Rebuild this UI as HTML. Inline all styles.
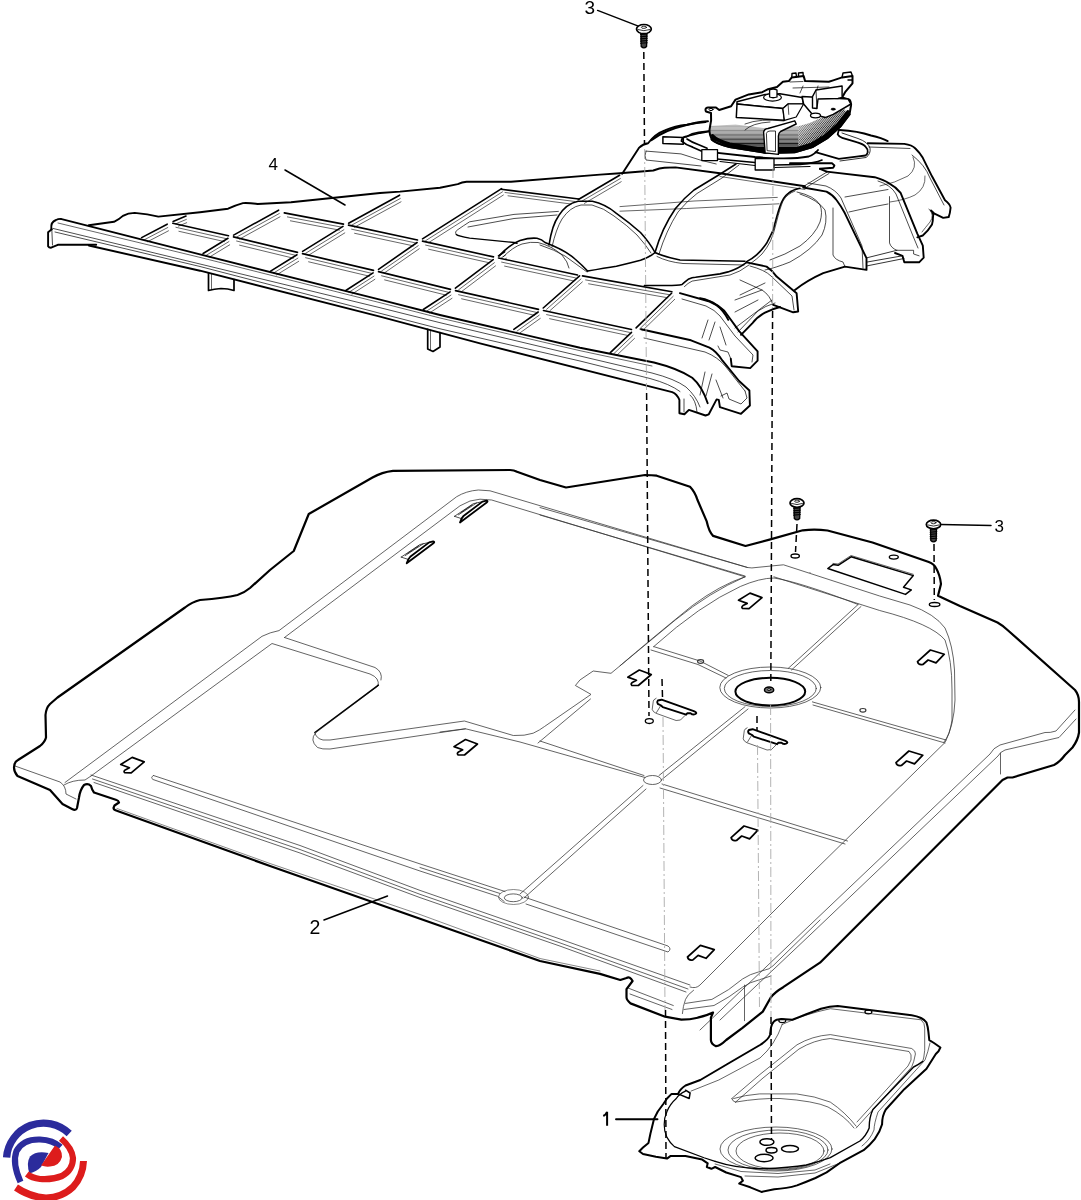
<!DOCTYPE html>
<html><head><meta charset="utf-8"><style>
html,body{margin:0;padding:0;background:#fff;}
body{width:1081px;height:1200px;overflow:hidden;position:relative;font-family:"Liberation Sans",sans-serif;}
svg{position:absolute;left:0;top:0;}
</style></head><body>
<svg width="1081" height="1200" viewBox="0 0 1081 1200" fill="none" stroke="#000" stroke-linejoin="round" stroke-linecap="round">
<g stroke="#383838" stroke-width="0.78">
<!-- G1 outer line L1 -->
<path d="M65,782.5 L262,636.3 Q270,632.3 279,630.6 L456.7,496.7 Q466,491 478.3,490 L490,490.8 L747.5,567.5 Q752,568.4 756,567.5 L783.5,564.8 L879.7,596 L910,605 Q935,614 945,628 Q953,645 954.5,670 L955,700 Q954,725 945,742.5 L810,875 L700,985 Q696,989 690,987"/>
<!-- L2a lower-left segment -->
<path d="M91,776 L272,643.5 L370,674 Q380,678 378,686 L316,732.5 Q309,740 317.5,747.5 Q322,749.5 330,749 L465.5,728.8 L520,742 L645,777.5"/>
<!-- L2b upper -->
<path d="M284.5,637.5 L460,505.8 Q470,499.5 480,499.2 L491.7,500 L745,576.8"/>
<path d="M284.5,637.5 L375,667.5 Q383,672 381,680"/>
<path stroke="#000" stroke-width="1.4" d="M378.4,685.1 L314.8,732.5"/>
<path d="M314.8,732.5 Q316,738.5 323,740 L330,740 L464.4,721 L513.3,735.5 Q525,736 533.2,733.2 Q540,730 544.4,726.6 L591,694.4 L575.4,685.5 L579.9,680 L593.2,671 L611,673.3 L675.3,620 Q710,592 745,576.8"/>
<path d="M440,732 L465.5,728.8"/>
<path d="M538,743 L590.5,699"/>
<!-- inner arc around disc region -->
<path d="M653.7,646.6 Q700,605 740.3,586.5 Q760,578 774,578 Q800,582 858.1,604.5"/>
<path d="M620,665.8 Q650,640 692.2,605.7 Q720,585 745,576.8"/>
<path d="M773.9,576.8 L879.7,610.5 Q932,624 945,640 Q952,660 952,690 L952,720 Q950,735 944,742"/>
<!-- front groove -->
<path d="M91,775 L300,845.5 L420,890.4 L560,939 L690,985"/>
<path d="M92.5,779 L300,849.5 L420,894.3 L560,942.9 L688,989"/>
<path d="M94,782.5 L300,853 L420,897.6 L560,946.1 L686,992"/>
<path stroke-width="0.6" d="M117,808.5 L270,863.5 L420,914.5 L540,958.5 L600,971"/>
<!-- long slot groove front -->
<path d="M153.5,775.5 L420,863.9 L505,891.5"/>
<path d="M153.5,775.5 Q150,777.5 153,779.5 L420,871 L497.7,896.3 Q501,899 504.2,901.5"/>
<path d="M420,867.5 L500,893.5"/>
<path d="M524,897 L668,946 Q672,949 668,952 L526,904"/>
<!-- node A -->
<ellipse cx="513.3" cy="897.8" rx="9" ry="3.9"/>
<ellipse cx="513.5" cy="897" rx="15" ry="7.5" stroke-width="0.6"/>
<!-- node B -->
<ellipse cx="652.5" cy="780" rx="9" ry="4.5"/>
<!-- groove A-B -->
<path d="M520,894 L643,785.5"/>
<path d="M524,898 L646,789"/>
<!-- groove B up-left -->
<path d="M540,741 L644,775.5"/>
<!-- groove B up-right to disc -->
<path d="M659,775.5 L745,706.7"/>
<path d="M662.5,779 L748,709"/>
<!-- groove B down-right -->
<path d="M662,784 L847.5,841"/>
<path d="M660,788 L845,844"/>
<!-- disc grooves -->
<path d="M653.7,646.6 L700,661 L728.2,675.4"/>
<path d="M651,650 L698,664.5 L726,678"/>
<ellipse cx="700.6" cy="661.5" rx="3" ry="1.8" stroke-width="1.2"/>
<path d="M788.4,668.2 L858.1,604.5"/>
<path d="M791.5,670 L861,606.5"/>
<path d="M812.4,701.9 L946,740"/>
<path d="M813,705 L945,743"/>
<ellipse cx="862.9" cy="710.3" rx="3" ry="1.8" stroke-width="1.2"/>
<!-- disc rings -->
<ellipse cx="770.3" cy="687.5" rx="50.5" ry="20.5"/>
<ellipse cx="770.3" cy="688.5" rx="46" ry="18"/>
<ellipse cx="770.3" cy="691.6" rx="34.9" ry="13.8" stroke="#000" stroke-width="2"/>
<ellipse cx="769.1" cy="689.9" rx="4.6" ry="2.9" stroke="#000" stroke-width="1.5" fill="#777"/>
<ellipse cx="769.1" cy="689.6" rx="1.8" ry="1" stroke="#000" stroke-width="0.8" fill="#bbb"/>
<!-- right inner lines near right edge -->
<path d="M1075,710 L1056,731 Q1050,733 1045,732.5 L1000,745 Q993,748 990,754 L810,925 L700,1030"/>
<path d="M1076,719 L1059,737.5 L1005,750 Q1000,752 998,756 L810,935 L720,1020"/>
<path d="M1000.5,753 L1000.5,774"/>
<!-- left flange lines -->
<path d="M15,766 L60,782 Q66,786 66,794 L76,799"/>
<path d="M64,785 Q72,780 85,780 L91,776"/>
<!-- front slot left -->
<!-- top-right platform edge -->
<path d="M810,572.5 L810,572.5"/>
<path d="M540,507.5 L747.5,567.5"/>
<path d="M540,515 L745,576"/>
<!-- lower front lines of panel bottom area -->
<path d="M693.6,990.2 Q687,995 685.5,999.4 Q683,1006 682.4,1013.6"/>
<path d="M685.5,1003.4 L711.9,999.4 Q730,990 742.5,979 Q750,974 758.7,971.9 L768.9,968.8 L773,965.8 L820,920"/>
<path d="M684,1009.5 L714,1005.5 Q730,997 742.5,987.2 Q750,982 758.7,980 L770.9,976"/>
<path d="M744.5,985.1 L744.5,1020.7"/>
<path d="M628.5,988.2 L673.3,1005.5 M630,994 L672,1009.5"/>
</g>
<path stroke-width="2.2" d="M14,767.5 Q14,762 18,760 L40,746 Q45,742 46,737.5 L45.5,715 Q46,708 50,704 L57.5,697.5 L185,607.5 Q192,602 200,600 Q225,598 237.5,595 Q244,593 250,588 L270,570 L293.75,551 L308.75,514 L372.5,477.5 Q382,472 393,470.8 L510,470 Q514,470 517,471.7 L540,480 L566,487.5 L645,475 Q652,475 656.7,475.7 L690,486.8 Q695,492 697.4,499.8 L706.6,521.1 Q709,532 713.1,535.9 L745.5,546 L769.5,539.6 L802.8,530.3 Q815,529 827.5,530.5 L872.5,542.5 L928.8,562 Q934,564 936,568 Q940,575 941,584 L938,595.7 L959.9,606.1 L997.5,622.5 Q1002,625 1007.5,630 L1075,690 Q1079,695 1079,702 L1079,732.5 Q1078,740 1072.5,747.5 L1065,755 Q1060,762 1054,765 L1012.5,777.5 L1007.5,777.5 L1002.5,780 L820,962.7 L783.2,987.2 Q775,992 770.9,997.3 L762.8,1011.6 L742.5,1027.9 L726.2,1040 Q720,1046 716,1046.2 Q711,1044 710.9,1040 L710.9,1017.7 L713,1012.6 Q706,1016 697.7,1017.7 Q690,1019.5 681.4,1019.7 L665.1,1016.7 L630.5,1003.4 Q626.5,1000 626.5,997.3 L626.5,989.2 L632.6,981 Q630,976 626.5,978 L620.3,980 L600,973.9 L540,961 L270,866 L117.5,811 Q113.5,810 113.5,808 L114.5,805.5 L119,802.5 Q118.5,800.5 116.5,800 L94,792.5 Q92,790 91,786 Q88,783 84,785 Q80,790 79,797.5 L77,808 Q76,811 72,809 L62.5,804 L50,790 L17.5,776 Q14,772 14,767.5 Z"/>
<defs>
<path id="tabA" d="M0,0 L13.9,4.2 L5.6,12.9 L-2.3,10 L-7.5,14.5 Q-12,15.5 -12.9,11.6 Z"/>
<path id="tabB" d="M0,0 L12,4.5 L-1,15.5 L-7.5,15.3 Q-9,14 -7,12.5 L-2.8,10.3 L-11.5,7.1 Z"/>
</defs>
<g stroke="#000" stroke-width="1.7">
<use href="#tabB" x="132.2" y="757.4"/>
<use href="#tabB" x="465.5" y="739.5"/>
<use href="#tabB" x="639.3" y="670"/>
<use href="#tabB" x="750" y="593.1"/>
<use href="#tabA" x="930.4" y="650"/>
<use href="#tabA" x="908.9" y="751"/>
<use href="#tabA" x="744" y="826"/>
<use href="#tabA" x="700.4" y="945.4"/>
</g>
<!-- clips -->
<defs>
<g id="clipk">
<path stroke-width="1.8" d="M460,522.5 L486.7,502.5 Q488.5,501 486.5,500.6 L482.5,501.6 L463.5,516 Q461,518.5 460,522.5 Z"/>
<path stroke-width="0.7" d="M454.5,516.3 L473.3,503.7 L482.5,501.6 M454.5,516.3 L461.7,518.7 M458.5,514.8 L476.5,503 M461,512.5 L472,505"/>
</g>
</defs>
<g stroke="#000">
<use href="#clipk"/>
<use href="#clipk" transform="translate(-53.3,40.8)"/>
</g>
<!-- slots near disc -->
<defs>
<g id="slotk">
<path stroke-width="1.9" d="M657.8,700.5 L661.6,699.7 L693.8,711.1 Q697,712.5 696.1,713.5 Q695,714.8 692.2,714.4 L690.5,713.3 L687.2,713.3 L686.1,714.7 L662.8,707.2 L661.1,705.5 L657.8,703.9 Q656.5,702 657.8,700.5 Z"/>
<path stroke-width="0.6" d="M656.1,698.3 Q653,700 653.3,701.1 L652.2,709.4 Q653,712 656.1,713.3 L676.1,720.5 L680.5,720 L685,715.5 M656.5,712.5 L660.5,706"/>
</g>
</defs>
<g stroke="#000">
<use href="#slotk"/>
<use href="#slotk" transform="translate(91,29.5)"/>
</g>
<!-- rect slot -->
<path stroke="#000" stroke-width="1.5" d="M827.8,568.5 L833,564.6 L838.1,565.3 L851.1,556.8 L913.3,575.6 L903.5,587.3 L911.3,589.9 L905.5,594.4 Z"/>
<path stroke="#000" stroke-width="0.6" d="M833,563.4 L838,564 L851,555.5 L913.3,574.3"/>
<ellipse cx="893.8" cy="557.1" rx="4.5" ry="2" stroke="#000" stroke-width="1.3"/>
<g id="tray">
<!-- back edge thick -->
<path stroke-width="1.9" d="M88.8,225.2 L114,221.8 Q119,219.5 122.9,215.9 Q128,213 134.7,212.9 Q148,214 158.4,216.6 L200,212.2 L228.1,208.7 Q236,205 242.9,203.1 Q250,202.8 257.7,204 L291,202.2 L380,193 L400,191.6 L440,187.8 L457.8,184.1 Q462,182.3 466.6,181.8 L511,181.8 L600,174.6 L620,173.3 L653.3,170.5 Q660,168 664.4,167.8 L675.5,167.4 L719.9,173.3 L805,186.3"/>
<path stroke-width="0.6" d="M720,176.5 L805,189.5"/>
<!-- left end curl + bracket -->
<path stroke-width="1.9" d="M51.3,229 Q50.5,222 56,220 Q58,219 60.7,218.9"/>
<path stroke-width="1.9" d="M51.8,229.2 L48.1,232.2 L48.1,246.2 Q49,247.8 51.1,247.7 L57.8,244.8 L96.2,244.8"/>
<path stroke-width="0.7" d="M51.8,229.2 L52.5,245"/>
<!-- rail -->
<path stroke-width="1.9" d="M60.7,218.9 L200,254.4 L380,299.7 L440,315 L580,347.7 L654,362.5 Q678,368.5 692.2,377.7 Q702,386 707.7,403.2"/>
<path stroke-width="0.6" d="M58,223 L200,257.4 L380,302.7 L440,318 L580,350.7 L652,366"/>
<path stroke-width="0.7" d="M53.3,228.5 L200,264 L380,307.7 L440,322.7 L580,356 L652,373 Q675,379 686,387 Q696,396 700,407"/>
<path stroke-width="0.7" d="M55,232 L200,266.5 L380,313.3 L440,328.8 L580,361 L650,378.5 Q670,384 680,391.5"/>
<path stroke-width="1.9" d="M88.8,245.5 L200,270.7 L380,316.6 L480,343.3 L672.2,392.1 Q677,394 679.4,399.9 L679.4,413.2 L684.4,414.3 L688.9,409.9 L705.5,415.5 L708.8,414.3 L716.6,399.4 L718.8,399.9 L719.9,407.1 L741,413.8 L749.9,405.5 L749.4,390.5 L739.1,381 L722.5,360.7 Q716,351 709.5,347.7 L691,340.3 L641,329.2"/>
<!-- tabs under rail -->
<path stroke-width="1.7" d="M208.5,273 L208.5,290.5 Q214,289 221,288.5 Q228,288.5 234,290.5 L234,279.5"/>
<path stroke-width="0.6" d="M211.5,274 L211.5,289.5"/>
<path stroke-width="1.7" d="M427.7,329.4 L427.7,349 L433,351.5 L440,347 L440,332.5"/>
<path stroke-width="0.6" d="M430.5,330 L430.5,349.5"/>
<!-- lower cap inner thin -->
<path stroke-width="0.7" d="M684,399 L684,412 M690,395 Q696,400 697,412 M705,372 L700,395 M712,374 L706,396 M716,380 L723,398 M721,396 L727,393 L729,399 L741,404 L747,398 L745,391 M745,391 L726,367 Q718,357 705,352 L644,338"/>
<!-- upper cap -->
<path stroke-width="1.9" d="M679.9,293.1 L709.5,301.5 Q718,305 724.3,310.7 L739.1,331.1 L757.6,351.4 L757.6,360.7 L750.2,368.1 L731.7,366.2 L730.8,358.8"/>
<path stroke-width="0.7" d="M682,299 L706,306 Q715,310 720,316 L735,336 L753,355 L752,362 M730.8,358.8 L728,352 L720,350 L718,346 M708,320 L702,338 M715,322 L709,340 M720,327 L726,345"/>
<g id="grid">
<path stroke-width="1.6" d="M172.8,223.2 L228.5,235.7"/>
<path stroke-width="0.6" d="M175.9,227.3 L226.5,238.7"/>
<path stroke-width="0.6" d="M178.9,231.3 L224.4,241.6"/>
<path stroke-width="1.6" d="M233.5,236.9 L297.5,252.4"/>
<path stroke-width="0.6" d="M236.6,241.0 L295.5,255.3"/>
<path stroke-width="0.6" d="M239.6,245.2 L293.4,258.2"/>
<path stroke-width="1.6" d="M302.5,253.6 L373.5,270.4"/>
<path stroke-width="0.6" d="M305.6,257.7 L371.5,273.3"/>
<path stroke-width="0.6" d="M308.6,261.8 L369.4,276.2"/>
<path stroke-width="1.6" d="M378.5,271.6 L450.5,289.4"/>
<path stroke-width="0.6" d="M381.6,275.8 L448.5,292.3"/>
<path stroke-width="0.6" d="M384.6,279.9 L446.4,295.2"/>
<path stroke-width="1.6" d="M455.5,290.6 L538.5,309.4"/>
<path stroke-width="0.6" d="M458.6,294.7 L536.5,312.4"/>
<path stroke-width="0.6" d="M461.6,298.8 L534.4,315.3"/>
<path stroke-width="1.6" d="M543.5,310.5 L631.5,329.5"/>
<path stroke-width="0.6" d="M546.6,314.6 L629.5,332.4"/>
<path stroke-width="0.6" d="M549.6,318.7 L627.4,335.4"/>
<path stroke-width="1.6" d="M284.3,212.9 L343.5,224.1"/>
<path stroke-width="0.6" d="M287.4,216.9 L341.5,227.1"/>
<path stroke-width="0.6" d="M290.4,220.8 L339.4,230.1"/>
<path stroke-width="1.6" d="M348.5,225.1 L417.5,240.0"/>
<path stroke-width="0.6" d="M351.6,229.2 L415.5,242.9"/>
<path stroke-width="0.6" d="M354.6,233.3 L413.4,245.9"/>
<path stroke-width="1.6" d="M422.5,241.1 L493.5,256.9"/>
<path stroke-width="0.6" d="M425.6,245.1 L491.5,259.9"/>
<path stroke-width="0.6" d="M428.6,249.2 L489.4,262.8"/>
<path stroke-width="1.6" d="M498.5,258.0 L577.5,275.0"/>
<path stroke-width="0.6" d="M501.6,262.1 L575.5,277.9"/>
<path stroke-width="0.6" d="M504.6,266.1 L573.4,280.9"/>
<path stroke-width="1.6" d="M582.5,275.9 L671.9,291.8"/>
<path stroke-width="0.6" d="M585.6,279.9 L669.9,294.8"/>
<path stroke-width="0.6" d="M588.6,283.8 L667.8,297.8"/>
<path stroke-width="1.6" d="M141.6,237.6 L167.2,224.2"/>
<path stroke-width="0.6" d="M144.5,239.7 L167.8,227.5"/>
<path stroke-width="0.6" d="M147.4,241.8 L168.5,230.8"/>
<path stroke-width="1.6" d="M173.1,221.5 L186.0,216.1"/>
<path stroke-width="0.6" d="M175.8,223.8 L186.4,219.4"/>
<path stroke-width="0.6" d="M178.5,226.1 L186.7,222.7"/>
<path stroke-width="1.6" d="M203.1,253.5 L228.0,238.3"/>
<path stroke-width="0.6" d="M206.1,255.4 L228.9,241.6"/>
<path stroke-width="0.6" d="M209.1,257.3 L229.7,244.8"/>
<path stroke-width="1.6" d="M233.6,235.1 L278.6,210.2"/>
<path stroke-width="0.6" d="M236.6,237.1 L279.3,213.5"/>
<path stroke-width="0.6" d="M239.5,239.1 L280.0,216.8"/>
<path stroke-width="1.6" d="M270.6,271.1 L297.0,254.8"/>
<path stroke-width="0.6" d="M273.6,273.0 L297.9,258.1"/>
<path stroke-width="0.6" d="M276.6,274.9 L298.7,261.3"/>
<path stroke-width="1.6" d="M302.6,251.4 L343.0,226.4"/>
<path stroke-width="0.6" d="M305.6,253.3 L343.9,229.7"/>
<path stroke-width="0.6" d="M308.6,255.2 L344.8,232.9"/>
<path stroke-width="1.6" d="M348.6,223.2 L399.6,195.2"/>
<path stroke-width="0.6" d="M351.6,225.2 L400.3,198.5"/>
<path stroke-width="0.6" d="M354.5,227.2 L401.0,201.8"/>
<path stroke-width="1.6" d="M345.8,290.5 L373.1,272.9"/>
<path stroke-width="0.6" d="M348.9,292.3 L374.0,276.1"/>
<path stroke-width="0.6" d="M352.0,294.1 L374.9,279.3"/>
<path stroke-width="1.6" d="M378.5,269.3 L417.1,242.5"/>
<path stroke-width="0.6" d="M381.6,271.0 L418.2,245.7"/>
<path stroke-width="0.6" d="M384.7,272.7 L419.2,248.8"/>
<path stroke-width="1.6" d="M422.5,238.9 L501.6,188.6"/>
<path stroke-width="0.6" d="M425.6,240.7 L502.5,191.8"/>
<path stroke-width="0.6" d="M428.7,242.6 L503.4,195.0"/>
<path stroke-width="1.6" d="M423.3,309.5 L450.1,291.9"/>
<path stroke-width="0.6" d="M426.4,311.3 L451.0,295.1"/>
<path stroke-width="0.6" d="M429.5,313.0 L452.0,298.3"/>
<path stroke-width="1.6" d="M455.4,288.2 L493.2,259.6"/>
<path stroke-width="0.6" d="M458.6,289.8 L494.4,262.7"/>
<path stroke-width="0.6" d="M461.8,291.4 L495.5,265.9"/>
<path stroke-width="1.6" d="M498.5,255.8 L504.6,251.8"/>
<path stroke-width="0.6" d="M501.6,257.6 L505.6,255.0"/>
<path stroke-width="0.6" d="M504.7,259.4 L506.5,258.2"/>
<path stroke-width="1.6" d="M513.8,329.4 L538.2,312.0"/>
<path stroke-width="0.6" d="M517.0,331.1 L539.2,315.2"/>
<path stroke-width="0.6" d="M520.1,332.8 L540.3,318.4"/>
<path stroke-width="1.6" d="M543.2,308.0 L579.6,275.8"/>
<path stroke-width="0.6" d="M546.6,309.3 L581.0,278.9"/>
<path stroke-width="0.6" d="M549.9,310.7 L582.4,281.9"/>
<path stroke-width="1.6" d="M610.3,352.6 L631.5,332.4"/>
<path stroke-width="0.6" d="M613.7,353.8 L633.0,335.4"/>
<path stroke-width="0.6" d="M617.1,355.0 L634.5,338.4"/>
<path stroke-width="1.6" d="M636.1,327.9 L671.6,293.3"/>
<path stroke-width="0.6" d="M639.5,329.1 L673.2,296.3"/>
<path stroke-width="0.6" d="M642.9,330.3 L674.7,299.3"/>
<path stroke-width="1.6" d="M578.4,199.5 L619.6,175.3"/>
<path stroke-width="0.6" d="M581.4,201.4 L620.4,178.5"/>
<path stroke-width="0.6" d="M584.4,203.4 L621.2,181.7"/>
</g>

<path stroke-width="1.6" d="M501,189.2 L578.7,199"/>
<path stroke-width="0.6" d="M505,192.5 L575,201.5 M508,195.8 L571,204"/>
<!-- hump + teardrop -->
<path stroke-width="1.6" d="M499.2,255.9 Q510,244 520,240.5 Q530,237.5 537,238.3 Q542,239.5 545,242.5 Q565,250 575,259 Q582,265 587.6,271"/>
<path stroke-width="0.7" d="M503,257 Q513,247 522,244 Q531,241.5 538,242.5 Q552,246 562,255 Q568,262 569,268"/>
<path stroke-width="0.6" d="M620,206.6 L694,201 L777.3,197.4 M620,211.2 L686.6,208.5 L779,203.8"/>
<path stroke-width="1.4" d="M517,243.3 L514,242.5 L469.6,238.1 Q458,236 456.3,234.4"/>
<path stroke-width="0.7" d="M456.3,234.4 Q454,232 458,229.5 Q463,226 469.6,221.8 L514,214.4 L558.4,211.4"/>
<path stroke-width="0.7" d="M468,227 L514,218.5 L557,215"/>
<!-- big arch 1 (double) -->
<path stroke-width="1.6" d="M549,245 Q552,225 558.7,215.7 Q566,204 578,201.3 L592.4,201.3 Q605,204 616.4,213.3 Q630,223 640.5,232.5 Q650,243 655,252.5"/>
<path stroke-width="0.7" d="M552,247 Q556,229 562,219 Q570,207 581,205 L592,205 Q604,208 614,216 Q628,226 637,235 Q646,245 651,253"/>
<path stroke-width="1.6" d="M587.6,271 Q605,268 616.4,266.2 Q630,263 640.5,260.2 Q650,257 655,252.5"/>
<path stroke-width="0.7" d="M540,245 Q555,250 565,256 Q576,264 587,272"/>
<!-- arch 2 -->
<path stroke-width="1.6" d="M655,252.5 Q662,228 675.5,208.5 Q684,198 694,190 L719.9,174.2 L736,164"/>
<path stroke-width="0.7" d="M659,254 Q666,231 678,212 Q687,201 697,193.5 L722,178 L739,165"/>
<path stroke-width="1.6" d="M655,252.5 Q665,257 680,260 L745,261.25"/>
<path stroke-width="0.7" d="M657,256.5 Q668,262 683,263.5 L744,265"/>
<!-- saddle curve above upper cap -->
<path stroke-width="1.6" d="M644.4,285.5 L666.6,285.5 Q678,285.5 682.1,284.4 Q686,281 688.8,278.9 Q692,277.5 695.5,277.2 L720,273.9 L728,271.9 Q738,269 746.6,262.4"/>
<path stroke-width="0.7" d="M684.4,286.6 Q688,283 692.1,281.1 L720,276.6 L730,275 Q740,272 749,265"/>
<!-- arch 3 / fin -->
<path stroke-width="1.6" d="M746.6,261.6 Q752,259 756.6,254.9 Q762,250 766.6,243.3 Q770,237 773.3,229.9 Q777,215 779.9,206.6 Q783,197 788.2,193.3 Q793,189.5 799.9,188.3"/>
<path stroke-width="0.7" d="M750,264 Q757,259 762,254 Q767,248 770.5,241 Q774,233 776.5,222 Q780,208 783,201 Q787,194 795,191"/>
<path stroke-width="0.7" d="M797,192 Q815,196 820,205 Q823,212 820,222 Q815,235 800,246 Q785,255 770,260"/>
<path stroke-width="0.7" d="M800,194 Q818,200 825,210 Q828,222 822,235 Q812,250 790,262 Q775,268 765,270"/>
<path stroke-width="0.7" d="M833,208 L833,255 Q835,260 843,262 L844.9,266.6"/>
<path stroke-width="1.9" d="M803.2,187.5 L826.5,191.6 Q833,195 836.5,200 Q841,206 844.9,213.3 L866.5,258.2 L866.5,269.9 L844.9,266.6 L823.2,273.2 Q808,280 794.9,289.9"/>
<path stroke-width="0.7" d="M808,183 L826,186 Q836,190 841,198 L862,246 L863,268"/>
<!-- fin 2 -->
<path stroke-width="1.9" d="M746.6,262.4 L766.6,266.6 Q772,270 776.6,276.6 L796.6,293.2 L798.2,311.5 L793.2,312.3 L773.3,304.9"/>
<path stroke-width="0.7" d="M750,266 Q765,270 771,276 L792,296 L794,310 M773,305 Q770,295 762,290 L740,280 M765,283 L740,295 M762,290 L735,300 M758,300 L735,312"/>
<!-- housing lower-left edge near fin2 -->
<path stroke-width="1.9" d="M700,298.2 Q710,300 716.6,304.9 Q724,311 728.3,319.8"/>
<path stroke-width="1.9" d="M780,307 Q772,309 765,312.6 Q757,317 752,323.7 L741,334.8"/>
<path stroke-width="0.7" d="M775,303 Q765,306 758,311 L738,332 M772,300 L735,328"/>
<!-- right housing box -->
<path stroke-width="1.9" d="M867.7,143.3 L904.3,143.9 Q912,145 915.4,148.5 Q920,153 922.8,157.8 L932,176.3 L945,200.3 Q950,204 950.6,207.7 Q950,214 948.7,217 L943.2,217.9 L934,213.3 L931,210.5 Q934,213 933,217 Q933,221 932,224.4 Q928,231 922.8,235.5 L917.3,237.3"/>
<path stroke-width="1.9" d="M820,168.8 L826.6,171.6"/>
<path stroke-width="1.9" d="M790,163.3 L832.2,163.3 L834.4,165.5 L833.3,167.7 L820,168.8"/>
<path stroke-width="0.7" d="M869,147 L910,148.5 M803.3,186.6 L826.6,172.2 M806,187.5 L829,173.5"/>
<path stroke-width="0.7" d="M845,197 L888,189.5 M849,212 Q870,207 888,204"/>
<path stroke-width="1.9" d="M826.6,171.6 L874.7,177.2 Q884,180 889.5,183.6 Q896,187 900.6,192.9 L917.3,233.6 L922.8,245.6 L923.7,257.7 L919.1,262.3 L904.3,262.3 L902.5,255.8 L895,253"/>
<path stroke-width="0.7" d="M889.5,196.6 L889.5,242.9 Q891,248 896.9,250.3 L913.6,250.3 L913.6,254 L919.1,255.8 M878,181 Q891,185 896,194 L913,236 L918,248"/>
<path stroke-width="0.8" d="M867.3,257.7 L896.9,250.3 M867.3,262 L902.5,255.8 M866.5,266 L904,258.5"/>
<path stroke-width="0.6" d="M913,157 Q918,168 908,176 Q895,183 880,186 M925,176 Q926,188 915,195 Q905,200 890,202 M929,209 Q935,215 930,222 Q925,228 922,232"/>
<path stroke-width="0.7" d="M912,155 Q925,165 930,178 L944,205"/>
<!-- housing left + top -->
<path stroke-width="1.9" d="M622.2,173.8 L638.9,147.9 Q643,144 648.1,143.3 Q655,134 664.8,130.4 Q675,126 687,124.8 Q697,122.5 705.5,122"/>
<path stroke-width="0.7" d="M645.9,151.1 L681,153.9 L701.4,160.4 L716.2,164 M646,151.1 Q644,156 646,160 L701,166"/>
<path stroke-width="1.5" d="M662.9,136.8 L683.3,137.5 L683.3,144.2 L662.9,143.5 Z"/>
</g>

<g id="motor">
<clipPath id="finL"><path d="M709.6,126 L735.5,124.5 L763.3,128 L798.4,126.3 L798.4,160 L700,160 L700,118 Z"/></clipPath>
<clipPath id="finR"><path d="M798.4,126.3 L809.5,122.9 L830,114 L846.5,108.1 L851,105.5 L860,105 L860,160 L798.4,160 Z"/></clipPath>
<clipPath id="mbody"><path d="M711.1,118 L716.3,116 L851,103 L849.5,114.4 L840.6,126.2 L827.3,138.1 L812.5,147 L794.7,152.2 L766.6,152.9 L729.6,147 L711.8,139.6 L709.6,129.2 Z"/></clipPath>
<!-- base ring and wires around motor -->
<path stroke-width="1.9" d="M651.4,140.2 Q665,130 682.9,126 Q696,122 708,121.3"/>
<path stroke-width="1.9" d="M839.6,130 Q858,131 871,135.5 Q882,138 887.7,141.1"/>
<path stroke-width="1.6" d="M686,137 Q692,133 698.6,132.3 L711.2,130.8"/>
<path stroke-width="1.8" d="M681.6,141.1 Q686,145 692.7,147.2 L701.8,151.2 L755,157 Q790,160 808.7,156.5 Q815,154 818,150"/>
<path stroke-width="1.8" d="M681.6,141.1 Q681.5,137.5 686,136.5 L700,133 L711,131.2"/>
<path stroke-width="1.6" d="M687,139 Q692,142.5 699.4,145 L707.1,148.3"/>
<path stroke-width="1.8" d="M838.8,130 L837.7,134.4 Q839,137 842.2,137.8 L856.6,142.2 Q863,144 865.5,146.6 Q868,149 867.7,152.2 Q867,155 865.5,155.5 L856.6,156.6 L838.8,158.8 L815.5,152.2"/>
<path stroke-width="0.8" d="M842,133 L858,138.5 Q868,142 870,148 Q871,154 866,157.5 L840,161"/>
<path stroke-width="1.6" d="M717,159 L755,162.5 M774,165 L800,164.5 Q815,163 822,160"/>
<path stroke-width="1.2" d="M720,161.5 L755,165.5 M775,167.5 L810,166.5"/>
<rect x="701.8" y="149.6" width="15.7" height="11" fill="#fff" stroke-width="1.3"/>
<rect x="755.2" y="158.5" width="18.8" height="11.5" fill="#fff" stroke-width="1.3"/>
<!-- motor silhouette -->
<path fill="#fff" stroke-width="2" d="M711.1,120.3 L711,113 L705.9,111.5 Q704.5,108 708,107.5 L716,107.5 L719.2,110 L731.1,106.3 L735.5,99.6 L748.8,94.4 L762.2,92.2 L768.1,89.2 L777,87 L782.9,81.8 L788.8,81.1 L791.8,77.4 L803.6,75.9 L805.1,81.1 L828.8,81.8 L833.2,80.4 L842.1,77.4 L852.5,75.9 L852.5,83.3 L845.1,92.2 L842.1,97.4 L849.5,99.6 Q851.5,102 851,105.5 L849.5,114.4 L840.6,126.2 L827.3,138.1 L812.5,147 L794.7,152.2 L766.6,152.9 L729.6,147 Q715,143 711.8,139.6 Q709,134 709.6,129.2 Z"/>
<g clip-path="url(#mbody)"><g clip-path="url(#finL)">
<path d="M700,124.00 L800,124.00" stroke-width="0.30"/>
<path d="M700,125.30 L800,125.30" stroke-width="0.32"/>
<path d="M700,126.60 L800,126.60" stroke-width="0.34"/>
<path d="M700,127.90 L800,127.90" stroke-width="0.37"/>
<path d="M700,129.20 L800,129.20" stroke-width="0.41"/>
<path d="M700,130.50 L800,130.50" stroke-width="0.44"/>
<path d="M700,131.80 L800,131.80" stroke-width="0.48"/>
<path d="M700,133.10 L800,133.10" stroke-width="0.52"/>
<path d="M700,134.40 L800,134.40" stroke-width="0.56"/>
<path d="M700,135.70 L800,135.70" stroke-width="0.61"/>
<path d="M700,137.00 L800,137.00" stroke-width="0.65"/>
<path d="M700,138.30 L800,138.30" stroke-width="0.70"/>
<path d="M700,139.60 L800,139.60" stroke-width="0.75"/>
<path d="M700,140.90 L800,140.90" stroke-width="0.80"/>
<path d="M700,142.20 L800,142.20" stroke-width="0.85"/>
<path d="M700,143.50 L800,143.50" stroke-width="0.90"/>
<path d="M700,144.80 L800,144.80" stroke-width="0.95"/>
<path d="M700,146.10 L800,146.10" stroke-width="1.01"/>
<path d="M700,147.40 L800,147.40" stroke-width="1.06"/>
<path d="M700,148.70 L800,148.70" stroke-width="1.12"/>
<path d="M700,150.00 L800,150.00" stroke-width="1.17"/>
<path d="M700,151.30 L800,151.30" stroke-width="1.23"/>
<path d="M700,152.60 L800,152.60" stroke-width="1.29"/>
<path d="M700,153.90 L800,153.90" stroke-width="1.35"/>
<path d="M700,155.20 L800,155.20" stroke-width="1.35"/>
<path d="M700,156.50 L800,156.50" stroke-width="1.35"/>
<path d="M700,157.80 L800,157.80" stroke-width="1.35"/>
</g></g>
<g clip-path="url(#mbody)"><g clip-path="url(#finR)">
<path d="M760.0,150.0 L830.0,91.0" stroke-width="0.30"/>
<path d="M760.8,151.0 L830.8,92.0" stroke-width="0.33"/>
<path d="M761.5,152.0 L831.5,93.0" stroke-width="0.35"/>
<path d="M762.2,153.0 L832.2,94.0" stroke-width="0.38"/>
<path d="M763.0,154.0 L833.0,95.0" stroke-width="0.41"/>
<path d="M763.8,155.0 L833.8,96.0" stroke-width="0.44"/>
<path d="M764.5,156.0 L834.5,97.0" stroke-width="0.46"/>
<path d="M765.2,157.0 L835.2,98.0" stroke-width="0.49"/>
<path d="M766.0,158.0 L836.0,99.0" stroke-width="0.52"/>
<path d="M766.8,159.0 L836.8,100.0" stroke-width="0.55"/>
<path d="M767.5,160.0 L837.5,101.0" stroke-width="0.57"/>
<path d="M768.2,161.0 L838.2,102.0" stroke-width="0.60"/>
<path d="M769.0,162.0 L839.0,103.0" stroke-width="0.63"/>
<path d="M769.8,163.0 L839.8,104.0" stroke-width="0.65"/>
<path d="M770.5,164.0 L840.5,105.0" stroke-width="0.68"/>
<path d="M771.2,165.0 L841.2,106.0" stroke-width="0.71"/>
<path d="M772.0,166.0 L842.0,107.0" stroke-width="0.74"/>
<path d="M772.8,167.0 L842.8,108.0" stroke-width="0.76"/>
<path d="M773.5,168.0 L843.5,109.0" stroke-width="0.79"/>
<path d="M774.2,169.0 L844.2,110.0" stroke-width="0.82"/>
<path d="M775.0,170.0 L845.0,111.0" stroke-width="0.85"/>
<path d="M775.8,171.0 L845.8,112.0" stroke-width="0.87"/>
<path d="M776.5,172.0 L846.5,113.0" stroke-width="0.90"/>
<path d="M777.2,173.0 L847.2,114.0" stroke-width="0.93"/>
<path d="M778.0,174.0 L848.0,115.0" stroke-width="0.95"/>
<path d="M778.8,175.0 L848.8,116.0" stroke-width="0.98"/>
<path d="M779.5,176.0 L849.5,117.0" stroke-width="1.01"/>
<path d="M780.2,177.0 L850.2,118.0" stroke-width="1.04"/>
<path d="M781.0,178.0 L851.0,119.0" stroke-width="1.06"/>
<path d="M781.8,179.0 L851.8,120.0" stroke-width="1.09"/>
<path d="M782.5,180.0 L852.5,121.0" stroke-width="1.12"/>
<path d="M783.2,181.0 L853.2,122.0" stroke-width="1.15"/>
<path d="M784.0,182.0 L854.0,123.0" stroke-width="1.17"/>
<path d="M784.8,183.0 L854.8,124.0" stroke-width="1.20"/>
</g></g>
<g clip-path="url(#mbody)"><path stroke-width="4.5" d="M712.5,136.5 Q717,141.5 729.6,144.6 L766.6,150.6 L794.7,149.9 L811.5,145 L825.5,136.5 L838.6,124.7 L848,112.5"/></g>
<path stroke-width="2.2" d="M711.8,139.6 Q716,144 729.6,147 L766.6,152.9 L794.7,152.2 L812.5,147 L827.3,138.1 L840.6,126.2 L849.5,114.4"/>
<!-- cap box -->
<path fill="#fff" stroke-width="1.5" d="M737,101.8 L765.1,94.4 L779.9,93.7 L802.1,97.4 L803.6,104 L788.1,104 L782.9,108.5 L737,104 Z"/>
<path fill="#fff" stroke-width="1.5" d="M737,104 L782.9,108.5 L784.4,120.3 L736.3,117.4 Z"/>
<path fill="#fff" stroke-width="1.2" d="M782.9,108.5 L788.1,104 L803.6,104 L796.2,117 L784.4,120.3 Z"/>
<path stroke-width="0.7" d="M788.1,104 L788.8,114.4"/>
<ellipse cx="772.5" cy="97.4" rx="8.9" ry="3.7" fill="#fff" stroke-width="1.2"/>
<path fill="#fff" stroke-width="1.3" d="M769.6,97 L769.6,90 Q773,88 777,90 L777,97 Q773,98.5 769.6,97 Z"/>
<path stroke-width="0.7" d="M745,124 Q760,118 784,121 M745,130 Q752,123 770,122"/>
<path stroke-width="0.7" d="M790,82 L803,81.5 M793,88 L829,87 M800,93 L803,86 M818,86 L815,96"/>
<!-- right block -->
<path fill="#fff" stroke-width="1.5" d="M803.6,104 L802.1,96.6 L848,98.9 L851,104 L833.2,114.4 L825.8,117.4 L812.5,114.4 Z"/>
<path fill="#fff" stroke-width="1.4" d="M812.5,96.6 L816,90 L842.1,86 L842.1,97.4 L838,98.5 L818,99 L816.9,108.5 L812.5,108 Z"/>
<path stroke-width="0.8" d="M816,90 L816.9,108.5"/>
<ellipse cx="815.5" cy="115.5" rx="5" ry="2.3" stroke-width="1.3" fill="#fff"/>
<ellipse cx="833.2" cy="109.2" rx="2.2" ry="1.1" fill="#000" stroke-width="0.5"/>
<path stroke-width="1.4" d="M791.8,77.4 L792,73.5 L796,73 L796.5,77 M798.5,76.5 L798.5,73 L803,72.5 L803.3,76 M842.1,77 L843,73 L851,72 L852.5,75.9 M848,80 L852,80"/>
<!-- U bracket -->
<path fill="#fff" stroke-width="1.4" d="M763.6,132.2 Q764,129 768,128.5 L794.7,120.8 L796.2,124 L780.5,131.5 Q778.4,133 778.4,136 L778.4,154.4 L765.1,152.9 Z"/>
<path stroke-width="0.8" d="M766.5,133 Q767,131 770,131 L775.5,131 L775.5,151.5 L767.5,150.7 Z"/>
<ellipse cx="711" cy="109.5" rx="2" ry="1.1" stroke-width="1"/>
</g>
<g id="pan">
<path stroke-width="2" d="M772,1024.4 Q774,1020.5 776.7,1019.8 L781.3,1018.9 L792.4,1019.8 L806.3,1014.2 L821,1008.7 Q830,1006 837.7,1005.9 L863.6,1009.2 L911.7,1015.2 Q917,1016 921,1018 Q925,1020 926.5,1022.6 Q928,1027 928.4,1031.8 L929.3,1040.1 L934,1043 L940.4,1047.5 L938.5,1051.2 L935.8,1054 L926.5,1068.8 L904.3,1089.2 L885.8,1109.5 Q882,1116 882.1,1124.3 Q880,1132 874.7,1139.1 Q870,1145 863.6,1150.2 L839.6,1163.2 L826.6,1172.4 L815.5,1178 Q806,1182 797,1185.4 Q787,1188.5 774.3,1189.2 L761.4,1191.9 L750.3,1187.3 L739.2,1183.6 L742.9,1180.8 L741,1177.1 L726.2,1172.5 L715.1,1167 L711.4,1168.8 L706.8,1167 L707.7,1163.3 L702.2,1159.6 L685.5,1155.9 L670.7,1155.9 L667,1158.6 L655.9,1156.8 L643,1154 L639.3,1151.2 L643,1147.5 L648.5,1142.9 L650.4,1133.7 L654,1118.9 L657.8,1111.5 L663.3,1104 L667,1098.5 L671.6,1093.9 L678.1,1093.9 Q680,1089 685.5,1085.5 L700.3,1080 L730,1062.5 L760,1045 Q768,1040 770,1035 L771,1027.5 Z"/>
<path stroke-width="1.5" d="M678.1,1093.9 L689.2,1098.5 L690.1,1093 L685.5,1090.2"/>
<!-- inner rim -->
<path stroke-width="1.2" d="M685.5,1091.1 Q679,1094 676.3,1098.5 Q670,1104 667,1111.5 Q664,1118 664.2,1124.4 Q664,1131 667,1137.4 Q670,1143 674.4,1146.6 L704,1157.7 L715.1,1161.4"/>
<path stroke-width="0.6" d="M691,1091.1 L718.8,1080 L760,1058 Q775,1045 782.2,1024.4"/>
<path stroke-width="0.6" d="M782.2,1024.4 Q805,1014 830.3,1008.7 L921,1019.8 Q925,1023 924.7,1028.1 L924.7,1050.3 Q924,1058 922.8,1061.4"/>
<path stroke-width="1.4" d="M922.8,1061.4 Q918,1065 913.6,1067 L872.9,1109.5 Q869,1118 869.2,1128 Q866,1136 859.9,1141 L830.3,1157.6 Q818,1162 806.3,1165 Q790,1168 760,1168.7 Q735,1168 715.1,1161.4"/>
<path stroke-width="0.6" d="M715.1,1164 L741,1171.5 L778,1173.5 L815,1170 L830,1164 M745,1176 L778,1177 L815,1173 L840,1163"/>
<path stroke-width="0.6" d="M930,1043 Q928,1052 925,1060 L878,1112 Q874,1124 874,1130 Q870,1140 862,1146"/>
<!-- inner V -->
<path stroke-width="0.6" d="M731.8,1098.5 L760,1074.4 L797,1044.8 Q812,1036 830.3,1034.6 L911.7,1048.5 Q916,1051 915.4,1054 Q914,1062 911.7,1067 L856.2,1128"/>
<path stroke-width="0.6" d="M735.5,1102.2 L763,1078 L799,1049 Q814,1040 830.3,1038.5 L909,1051.5 Q912,1054 911,1060 L908,1066 L857,1122"/>
<path stroke-width="0.6" d="M731.8,1098.5 Q733,1102 735.5,1102.2"/>
<!-- bowl arcs -->
<path stroke-width="0.6" d="M733.6,1098.5 Q745,1095 759.5,1093.9 L796.5,1093.9 Q815,1096 830.3,1102.1 Q845,1112 856.2,1126.2"/>
<path stroke-width="0.6" d="M736,1102 Q760,1098 780,1098.5 Q815,1101 828,1107 Q845,1116 854,1128"/>
<ellipse cx="776" cy="1149" rx="56" ry="22" stroke-width="0.6"/>
<ellipse cx="778" cy="1150" rx="50" ry="20" stroke-width="0.6"/>
<ellipse cx="780" cy="1151" rx="44" ry="18" stroke-width="0.6"/>
<g stroke-width="1.5">
<ellipse cx="766.9" cy="1142" rx="7" ry="3.3"/>
<ellipse cx="771.5" cy="1150.3" rx="5.5" ry="2.7"/>
<ellipse cx="790" cy="1148.8" rx="8.5" ry="3.3"/>
<ellipse cx="764.1" cy="1158" rx="9" ry="3.7"/>
</g>
<ellipse cx="782.3" cy="1020.8" rx="3.5" ry="1.8" stroke-width="1.2"/>
<ellipse cx="868.4" cy="1012" rx="3.5" ry="1.8" stroke-width="1.2"/>
</g>
<g id="screws" stroke="#000">
<path fill="#444" stroke-width="1.3" d="M640.9,32.5 L641.2,46.5 Q643.9,49.2 646.6,46.5 L646.9,32.5 Z"/>
<path stroke="#000" stroke-width="1.1" d="M640.6,34.5 L647.2,33.9 M640.6,36.7 L647.2,36.1 M640.6,38.9 L647.2,38.3 M640.6,41.1 L647.2,40.5 M640.6,43.3 L647.2,42.7 "/>
<ellipse cx="643.9" cy="29.1" rx="7.4" ry="4.6" stroke-width="1.7" fill="#fff"/>
<path stroke-width="0.8" d="M638.0,29.6 Q643.9,31.9 649.8,29.6"/>
<ellipse cx="643.9" cy="27.3" rx="2.6" ry="1.1" stroke-width="0.8"/>
<path fill="#444" stroke-width="1.3" d="M794.0,506.5 L794.3,518.5 Q797.0,521.2 799.7,518.5 L800.0,506.5 Z"/>
<path stroke="#000" stroke-width="1.1" d="M793.7,508.5 L800.3,507.9 M793.7,510.7 L800.3,510.1 M793.7,512.9 L800.3,512.3 M793.7,515.1 L800.3,514.5 "/>
<ellipse cx="797" cy="503" rx="7" ry="4.3" stroke-width="1.7" fill="#fff"/>
<path stroke-width="0.8" d="M791.5,503.5 Q797.0,505.8 802.5,503.5"/>
<ellipse cx="797" cy="501.2" rx="2.4" ry="1.1" stroke-width="0.8"/>
<path fill="#444" stroke-width="1.3" d="M930.5,528.0 L930.8,540.5 Q933.5,543.2 936.2,540.5 L936.5,528.0 Z"/>
<path stroke="#000" stroke-width="1.1" d="M930.2,530.0 L936.8,529.4 M930.2,532.2 L936.8,531.6 M930.2,534.4 L936.8,533.8 M930.2,536.6 L936.8,536.0 M930.2,538.8 L936.8,538.2 "/>
<ellipse cx="933.5" cy="524.5" rx="7.2" ry="4.3" stroke-width="1.7" fill="#fff"/>
<path stroke-width="0.8" d="M927.8,525.0 Q933.5,527.3 939.2,525.0"/>
<ellipse cx="933.5" cy="522.7" rx="2.5" ry="1.1" stroke-width="0.8"/>
</g>
<!-- dashed lines dark -->
<g stroke="#000" stroke-width="1.5" stroke-dasharray="7 4" stroke-linecap="butt">
<path d="M643.8,52 L644.5,145"/>
<path d="M646.6,393 L649,716"/>
<path d="M772.6,311 L770.8,684"/>
<path d="M797,524 L795.5,552"/>
<path d="M934,544 L934.3,600"/>
<path d="M662,679 L662.5,697"/>
<path d="M757,716 L757,730"/>
<path d="M665.5,1010 L666,1158"/>
<path d="M771,1017 L771.5,1140"/>
</g>
<ellipse cx="649.3" cy="721.1" rx="4" ry="2.4" stroke="#000" stroke-width="1.3"/>
<ellipse cx="795.2" cy="556" rx="4.2" ry="2" stroke="#000" stroke-width="1.3"/>
<ellipse cx="934.6" cy="604.5" rx="5.3" ry="2" stroke="#000" stroke-width="1.3"/>
<!-- gray dash-dot lines -->
<g stroke="#aaa" stroke-width="0.9" stroke-dasharray="10 3 2 3" stroke-linecap="butt">
<path d="M663,717 L665,1010"/>
<path d="M757.5,745 L759.5,1010"/>
<path d="M770.6,705 L771,1017"/>
<path d="M644.6,149 L646.5,390"/>
<path d="M773,168 L772.6,308"/>
</g>
<!-- labels and leaders -->
<g stroke="#000" stroke-width="1.5">
<path d="M597.6,10.4 L637.7,25.9"/>
<path d="M285,170 L345,205"/>
<path d="M324,920 L387.5,896"/>
<path d="M616,1119.2 L657.5,1119.2" stroke-width="1.9"/>
<path d="M607.1,1111.8 L607.1,1125.7 M603.3,1116 Q606,1114.6 607.1,1111.8" stroke-width="2" stroke-linecap="butt"/>
<path d="M941,524.5 L991,525.5"/>
</g>
<filter id="nf"><feOffset dx="0" dy="0"/></filter>
<g fill="#000" stroke="none" font-family="Liberation Sans, sans-serif" filter="url(#nf)">
<text x="584.6" y="13.9" font-size="19">3</text>
<text x="268.6" y="170" font-size="17">4</text>
<text x="309.4" y="933.7" font-size="19.5">2</text>
<text x="994.6" y="531.6" font-size="17">3</text>
</g>
<!-- logo -->
<g id="logo" stroke-linecap="butt" fill="none">
<path d="M6.6,1157.5 A37,37 0 0 1 69.2,1133.5" stroke="#2b2b9c" stroke-width="7.4"/>
<path d="M20.5,1182 Q12,1163 16.5,1151 Q23,1139 40,1139.5 Q53,1140 60.5,1147" stroke="#2b2b9c" stroke-width="6.2"/>
<path d="M29.5,1173.5 Q26,1163 30,1156.5 Q36,1150.5 48.5,1153 L41,1167 Q37,1171 29.5,1173.5 Z" fill="#2b2b9c" stroke="none"/>
<path d="M41,1165.5 L55,1145.5 Q62.5,1149 62,1157 Q59.5,1166 50,1166.5 Q45,1167 41,1165.5 Z" fill="#dd1c1c" stroke="none"/>
<path d="M61,1138.5 Q72,1148 73,1158 Q73,1170 62,1176 Q52,1180 40,1179 Q32,1178 26.8,1174" stroke="#dd1c1c" stroke-width="6.2"/>
<path d="M83.5,1161 Q83,1176 73,1187 Q62,1197.5 46,1198 Q30,1197 16,1187.5" stroke="#dd1c1c" stroke-width="7"/>
</g>

</svg>
</body></html>
